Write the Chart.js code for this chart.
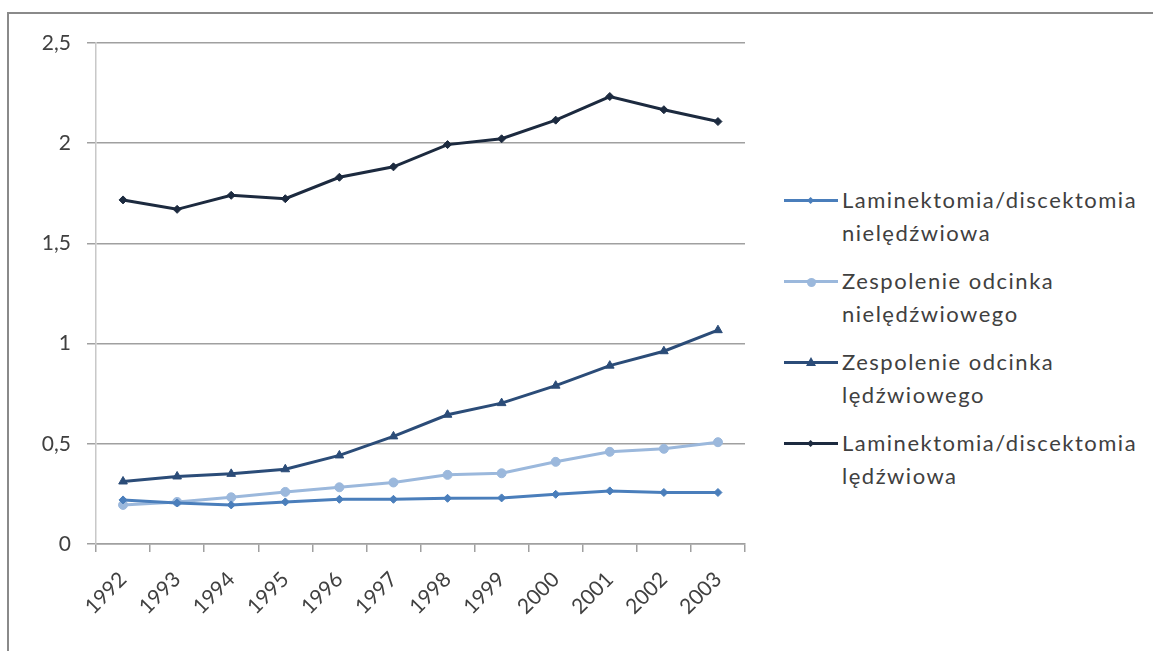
<!DOCTYPE html>
<html lang="pl">
<head>
<meta charset="utf-8">
<title>Zabiegi kręgosłupa 1992–2003</title>
<script src="https://cdn.jsdelivr.net/npm/chart.js@4.4.1/dist/chart.umd.min.js"></script>
<style>
    html, body {
        margin: 0;
        padding: 0;
        background: #ffffff;
        width: 1153px;
        height: 651px;
        overflow: hidden;
        font-family: Lato, "Open Sans", sans-serif;
    }
    #frame {
        position: absolute;
        left: 7px;
        top: 12px;
        width: 1160px;
        height: 700px;
        border-left: 2px solid #8a8a8a;
        border-top: 2px solid #8a8a8a;
    }
    #chartBox {
        position: absolute;
        left: 0;
        top: 0;
        width: 760px;
        height: 651px;
    }
    #legend {
        position: absolute;
        left: 784px;
        top: 183px;
        margin: 0;
        padding: 0;
        list-style: none;
    }
    #legend li {
        position: relative;
        padding-left: 58px;
        font-size: 22px;
        letter-spacing: 1.5px;
        line-height: 33px;
        color: #404040;
        height: 66px;
        margin-bottom: 15px;
    }
    #legend .sample {
        position: absolute;
        left: 0;
        top: 17px;
        width: 54px;
        height: 3px;
        margin-top: -1px;
    }
    #legend .mark {
        position: absolute;
        left: 27px;
        top: 18px;
    }
</style>
</head>
<body>
<div id="frame"></div>
<div id="chartBox"><canvas id="chartZabiegi"></canvas></div>
<ul id="legend"></ul>

<script>
    // ============================
    // DANE
    // ============================
    const lata = ["1992", "1993", "1994", "1995", "1996", "1997", "1998", "1999", "2000", "2001", "2002", "2003"];

    const lamNieledzwiowa = [0.22, 0.205, 0.195, 0.21, 0.223, 0.223, 0.228, 0.23, 0.248, 0.265, 0.257, 0.257];
    const zespNieledzwiowe = [0.195, 0.21, 0.233, 0.26, 0.283, 0.307, 0.345, 0.353, 0.41, 0.46, 0.475, 0.508];
    const zespLedzwiowe = [0.312, 0.337, 0.35, 0.373, 0.442, 0.537, 0.645, 0.703, 0.79, 0.89, 0.962, 1.067];
    const lamLedzwiowa = [1.717, 1.67, 1.74, 1.723, 1.83, 1.882, 1.993, 2.022, 2.115, 2.233, 2.167, 2.108];

    const nazwy = [
        ["Laminektomia/discektomia", "nielędźwiowa"],
        ["Zespolenie odcinka", "nielędźwiowego"],
        ["Zespolenie odcinka", "lędźwiowego"],
        ["Laminektomia/discektomia", "lędźwiowa"]
    ];

    const yTicks = [0, 0.5, 1, 1.5, 2, 2.5];

    // ============================
    // SERIE
    // ============================
    function seria(label, data, color, style, radius) {
        return {
            label: label.join(" "),
            data: data,
            borderColor: color,
            backgroundColor: color,
            borderWidth: 3,
            pointStyle: style,
            pointRadius: radius,
            pointHoverRadius: radius,
            pointBorderWidth: 1,
            tension: 0
        };
    }

    const datasets = [
        seria(nazwy[0], lamNieledzwiowa, "#4a7ebb", "rectRot", 4),
        seria(nazwy[1], zespNieledzwiowe, "#9bb8dc", "circle", 4.5),
        seria(nazwy[2], zespLedzwiowe, "#2b4c78", "triangle", 5),
        seria(nazwy[3], lamLedzwiowa, "#1c2a3f", "rectRot", 4)
    ];

    const osFont = { family: "Lato", size: 21 };

    const ctx = document.getElementById("chartZabiegi");
    const chart = new Chart(ctx, {
        type: "line",
        data: {
            labels: lata,
            datasets: datasets
        },
        options: {
            responsive: true,
            maintainAspectRatio: false,
            animation: false,
            layout: {
                padding: { left: 10, right: 15, top: 43, bottom: 0 }
            },
            plugins: {
                legend: { display: false },
                tooltip: { enabled: false }
            },
            scales: {
                x: {
                    offset: true,
                    afterFit: function (scale) { scale.height = 107; },
                    grid: {
                        offset: true,
                        drawOnChartArea: false,
                        drawTicks: true,
                        tickLength: 8,
                        color: "#a0a0a0",
                        lineWidth: 1.5
                    },
                    border: { color: "#a0a0a0", width: 1.5 },
                    ticks: {
                        minRotation: 45,
                        maxRotation: 45,
                        padding: 15,
                        color: "#404040",
                        font: osFont
                    }
                },
                y: {
                    min: 0,
                    max: 2.5,
                    afterFit: function (scale) { scale.width = 86; },
                    afterBuildTicks: function (scale) {
                        scale.ticks = yTicks.map(function (v) { return { value: v }; });
                    },
                    grid: {
                        color: "#a0a0a0",
                        lineWidth: 1.5,
                        drawTicks: true,
                        tickLength: 9
                    },
                    border: { color: "#c8c8c8", width: 1.5 },
                    ticks: {
                        padding: 16,
                        color: "#404040",
                        font: osFont,
                        callback: function (v) {
                            return String(v).replace(".", ",");
                        }
                    }
                }
            }
        }
    });

    // ============================
    // LEGENDA
    // ============================
    const legend = document.getElementById("legend");
    chart.data.datasets.forEach(function (ds, i) {
        const li = document.createElement("li");
        const line = document.createElement("span");
        line.className = "sample";
        line.style.background = ds.borderColor;
        li.appendChild(line);

        const mark = document.createElement("span");
        mark.className = "mark";
        const r = ds.pointRadius;
        if (ds.pointStyle === "circle") {
            mark.style.cssText += "width:" + (2 * r) + "px;height:" + (2 * r) + "px;margin:-" + r + "px 0 0 -" + r + "px;border-radius:50%;background:" + ds.borderColor;
        } else if (ds.pointStyle === "triangle") {
            mark.style.cssText += "width:0;height:0;margin:-" + (r + 1) + "px 0 0 -" + r + "px;border-left:" + r + "px solid transparent;border-right:" + r + "px solid transparent;border-bottom:" + (2 * r - 1) + "px solid " + ds.borderColor;
        } else {
            const s = r * 1.3;
            mark.style.cssText += "width:" + s + "px;height:" + s + "px;margin:-" + (s / 2) + "px 0 0 -" + (s / 2) + "px;transform:rotate(45deg);background:" + ds.borderColor;
        }
        li.appendChild(mark);

        nazwy[i].forEach(function (t, j) {
            if (j > 0) li.appendChild(document.createElement("br"));
            li.appendChild(document.createTextNode(t));
        });
        legend.appendChild(li);
    });
</script>
</body>
</html>
